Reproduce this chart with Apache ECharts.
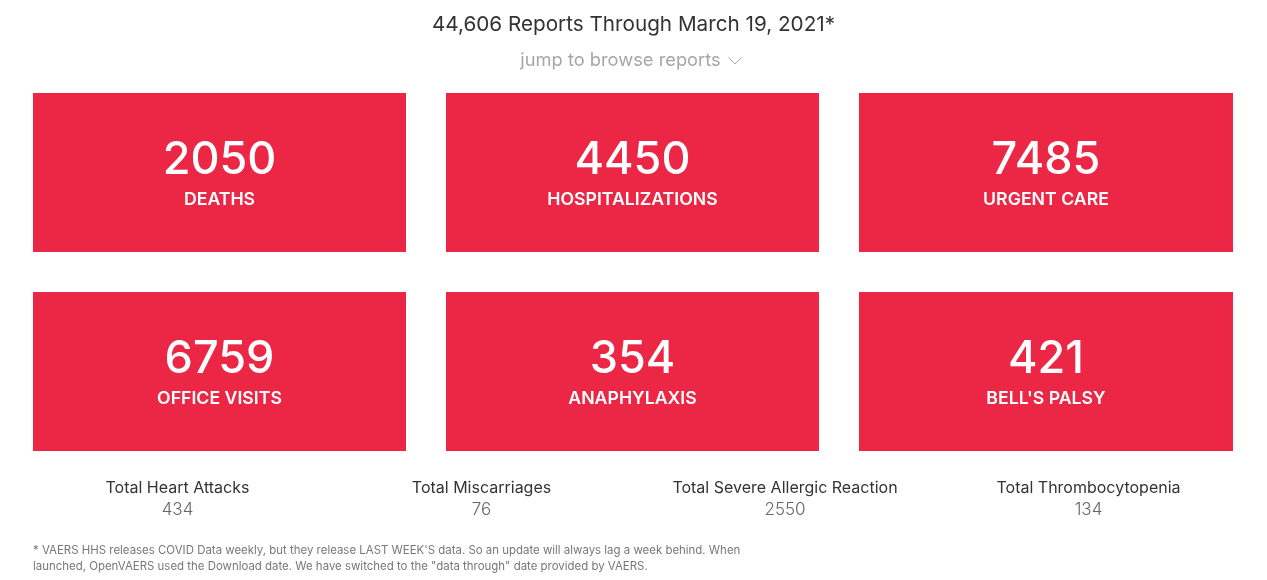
<!DOCTYPE html>
<html><head><meta charset="utf-8">
<style>html,body{margin:0;padding:0;background:#fff}#c{width:1267px;height:580px}</style>
<script src="https://cdn.jsdelivr.net/npm/echarts@6/dist/echarts.min.js"></script></head>
<body><div id="c"></div>
<script>
var titleText = "44,606 Reports Through March 19, 2021*";
var jumpText = "jump to browse reports";
var cardValues = ["2050","4450","7485","6759","354","421"];
var cardLabels = ["DEATHS","HOSPITALIZATIONS","URGENT CARE","OFFICE VISITS","ANAPHYLAXIS","BELL'S PALSY"];
var statLabels = ["Total Heart Attacks","Total Miscarriages","Total Severe Allergic Reaction","Total Thrombocytopenia"];
var statValues = ["434","76","2550","134"];
var footnote = ["* VAERS HHS releases COVID Data weekly, but they release LAST WEEK'S data. So an update will always lag a week behind. When",
 "launched, OpenVAERS used the Download date. We have switched to the \"data through\" date provided by VAERS."];

var FONT = "Inter, 'Noto Sans', sans-serif";
var cardX = [33,446,859], cardW = [373,373,374], cardY = [93,292], cardH = 159;
var statX = [177.5,481.5,785,1088.5];
var els = [];
function txt(x,y,t,size,color,weight,align){
  els.push({type:'text',x:x,y:y,silent:true,style:{text:t,font:(weight||400)+' '+size+'px '+FONT,fill:color,align:align||'center',verticalAlign:'middle'}});
}
txt(633.5,25,titleText,20.7,'#333333',400);
txt(620.5,61,jumpText,18.3,'#a6a6a6',400);
els.push({type:'polyline',shape:{points:[[728.5,57.5],[735,64],[741.5,57.5]]},style:{stroke:'#a6a6a6',lineWidth:1,fill:null}});
cardValues.forEach(function(v,i){
  var c=i%3,r=Math.floor(i/3),cx=cardX[c]+cardW[c]/2;
  els.push({type:'rect',shape:{x:cardX[c],y:cardY[r],width:cardW[c],height:cardH},style:{fill:'#ec2645'}});
  txt(cx,cardY[r]+67,v,45,'#ffffff',500);
  txt(cx,cardY[r]+107,cardLabels[i],17.7,'#ffffff',600);
});
statLabels.forEach(function(l,i){
  txt(statX[i],488,l,16,'#333333',400);
  txt(statX[i],510,statValues[i],17,'#666666',300);
});
txt(33,551,footnote[0],11.45,'#777777',400,'left');
txt(33,567,footnote[1],11.45,'#777777',400,'left');
var chart = echarts.init(document.getElementById('c'),null,{renderer:'canvas'});
chart.setOption({animation:false,graphic:{elements:els}});
</script></body></html>
